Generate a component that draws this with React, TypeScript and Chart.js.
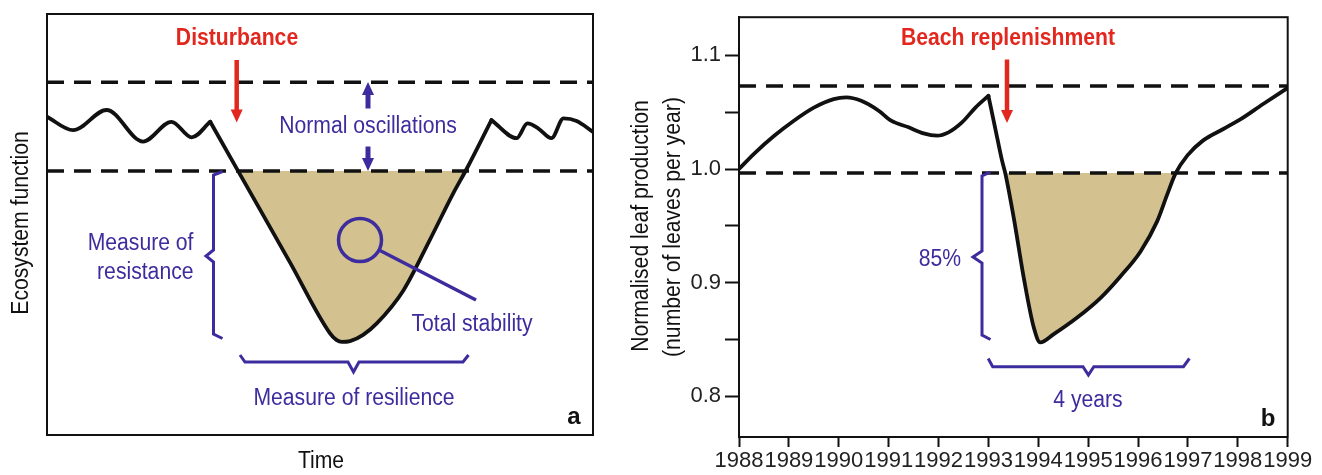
import React, { useEffect, useRef } from 'react';
import { Chart, registerables } from 'chart.js';

Chart.register(...registerables);

// ---------- Panel a (conceptual) ----------
const timeA = [0, 4.8, 10.9, 17.6, 22.8, 26.5, 29.9, 34.7, 44.5, 51.8, 53.0, 54.0, 55.5, 57.9, 60.4, 65.3, 70.1, 74.4, 76.9, 81.4, 86.0, 88.0, 90.0, 92.4, 94.6, 97.0, 100];
const functionA = [75.6, 72.4, 77.2, 69.7, 74.4, 70.7, 74.4, 63.4, 41.0, 24.2, 22.6, 22.1, 22.3, 23.8, 26.5, 34.4, 46.3, 57.4, 63.3, 74.8, 70.5, 74.0, 72.8, 70.5, 75.2, 74.6, 72.0];
const cornersA = [6, 19]; // indices of the sharp corners of the curve
const upperBandA = 83.8;
const lowerBandA = 62.7;

// ---------- Panel b (leaf production) ----------
const yearsB = [1988.0, 1988.3, 1988.7, 1989.1, 1989.5, 1989.9, 1990.15, 1990.45, 1990.8, 1991.05, 1991.4, 1991.7, 1991.97, 1992.2, 1992.47, 1992.74, 1993.0, 1993.14, 1993.27, 1993.34, 1993.51, 1993.71, 1993.91, 1994.04, 1994.31, 1994.78, 1995.25, 1995.65, 1996.05, 1996.38, 1996.58, 1996.75, 1996.99, 1997.3, 1997.7, 1998.05, 1998.5, 1999.0];
const leafB = [1.0, 1.0134, 1.029, 1.0425, 1.054, 1.0615, 1.063, 1.06, 1.0513, 1.0425, 1.0367, 1.0314, 1.0294, 1.0323, 1.041, 1.0541, 1.0644, 1.0352, 1.008, 0.996, 0.9566, 0.904, 0.8605, 0.8474, 0.8547, 0.8693, 0.8867, 0.9057, 0.9275, 0.9537, 0.977, 0.9959, 1.012, 1.025, 1.035, 1.0437, 1.057, 1.0714];
const cornersB = [16]; // 1993 peak
const upperBandB = 1.073;
const lowerBandB = 0.9965;
const yMinB = 0.7642;
const yMaxB = 1.1336;
const yearMin = 1988;
const yearMax = 1999;

const RED = '#E2281E';
const PURPLE = '#3D2C9E';
const TAN = '#D3C18F';
const INK = '#111111';
const FONT = "'Liberation Sans', Arial, sans-serif";

type TextOpts = { size?: number; bold?: boolean; color?: string; align?: CanvasTextAlign; sx?: number; rotate?: number };

function drawText(ctx: CanvasRenderingContext2D, s: string, x: number, y: number, o: TextOpts = {}) {
  const { size = 23, bold = false, color = PURPLE, align = 'center', sx = 0.92, rotate = 0 } = o;
  ctx.save();
  ctx.translate(x, y);
  if (rotate) ctx.rotate(rotate);
  ctx.scale(sx, 1);
  ctx.font = `${bold ? 'bold ' : ''}${size}px ${FONT}`;
  ctx.textAlign = align;
  ctx.textBaseline = 'alphabetic';
  ctx.fillStyle = color;
  ctx.fillText(s, 0, 0);
  ctx.restore();
}

function arrow(ctx: CanvasRenderingContext2D, x: number, yStart: number, yTip: number, color: string, shaft = 4.5, headW = 12, headL = 13) {
  const dir = Math.sign(yTip - yStart);
  const base = yTip - dir * headL;
  ctx.save();
  ctx.strokeStyle = color;
  ctx.lineWidth = shaft;
  ctx.lineCap = 'butt';
  ctx.beginPath();
  ctx.moveTo(x, yStart);
  ctx.lineTo(x, base + dir);
  ctx.stroke();
  ctx.fillStyle = color;
  ctx.beginPath();
  ctx.moveTo(x - headW / 2, base);
  ctx.lineTo(x + headW / 2, base);
  ctx.lineTo(x, yTip);
  ctx.closePath();
  ctx.fill();
  ctx.restore();
}

function poly(ctx: CanvasRenderingContext2D, pts: number[][], color: string, width = 3) {
  ctx.save();
  ctx.strokeStyle = color;
  ctx.lineWidth = width;
  ctx.lineJoin = 'miter';
  ctx.lineCap = 'butt';
  ctx.beginPath();
  pts.forEach((p, i) => (i === 0 ? ctx.moveTo(p[0], p[1]) : ctx.lineTo(p[0], p[1])));
  ctx.stroke();
  ctx.restore();
}

function frame(ctx: CanvasRenderingContext2D, area: { left: number; top: number; right: number; bottom: number }) {
  ctx.save();
  ctx.strokeStyle = INK;
  ctx.lineWidth = 2;
  ctx.strokeRect(area.left, area.top, area.right - area.left, area.bottom - area.top);
  ctx.restore();
}

const annotA = {
  id: 'annotA',
  afterDatasetsDraw(chart: any) {
    const ctx: CanvasRenderingContext2D = chart.ctx;
    frame(ctx, chart.chartArea);
    drawText(ctx, 'Disturbance', 237, 45, { bold: true, color: RED, sx: 0.92 });
    arrow(ctx, 236.7, 60, 122.5, RED, 4.5, 12, 13);
    arrow(ctx, 368, 108.5, 82, PURPLE, 5, 12, 13);
    arrow(ctx, 368, 146.5, 171, PURPLE, 5, 12, 13);
    drawText(ctx, 'Normal oscillations', 368, 133.3);
    drawText(ctx, 'Measure of', 193.5, 250, { align: 'right' });
    drawText(ctx, 'resistance', 193.5, 278.5, { align: 'right' });
    poly(ctx, [[222.5, 171.5], [213.5, 175], [213.5, 250], [206, 256], [213.5, 262], [213.5, 334], [222.5, 338.5]], PURPLE, 3);
    poly(ctx, [[240, 355], [245, 362], [348, 362], [353.5, 372], [359, 362], [463, 362], [468.5, 355]], PURPLE, 3);
    ctx.save();
    ctx.strokeStyle = PURPLE;
    ctx.lineWidth = 3.5;
    ctx.beginPath();
    ctx.arc(360, 240, 21.5, 0, Math.PI * 2);
    ctx.stroke();
    ctx.restore();
    poly(ctx, [[379, 250], [476, 300]], PURPLE, 3.5);
    drawText(ctx, 'Total stability', 472, 330.5);
    drawText(ctx, 'Measure of resilience', 354, 405);
    drawText(ctx, 'a', 574, 424, { bold: true, color: INK, size: 24, sx: 1 });
    drawText(ctx, 'Time', 321, 468, { color: INK });
    drawText(ctx, 'Ecosystem function', 28, 223, { color: INK, rotate: -Math.PI / 2 });
  },
};

const annotB = {
  id: 'annotB',
  afterDatasetsDraw(chart: any) {
    const ctx: CanvasRenderingContext2D = chart.ctx;
    frame(ctx, chart.chartArea);
    drawText(ctx, 'Beach replenishment', 388, 45, { bold: true, color: RED, sx: 0.92 });
    arrow(ctx, 387, 59.5, 123, RED, 4.5, 12, 13);
    poly(ctx, [[370.5, 172], [362, 176], [362, 251], [353, 257], [362, 263], [362, 335], [370.5, 339.5]], PURPLE, 3);
    drawText(ctx, '85%', 320, 266);
    poly(ctx, [[368.2, 358.5], [372.7, 366.7], [463, 366.7], [468.4, 375], [473.8, 366.7], [563.5, 366.7], [569.4, 358.5]], PURPLE, 3);
    drawText(ctx, '4 years', 468, 406.5);
    drawText(ctx, 'b', 648, 426, { bold: true, color: INK, size: 24, sx: 1 });
    drawText(ctx, 'Normalised leaf production', 27.5, 226, { color: INK, rotate: -Math.PI / 2 });
    drawText(ctx, '(number of leaves per year)', 59.5, 227, { color: INK, rotate: -Math.PI / 2 });
  },
};

function lineBand(xs: number[], v: number) {
  return xs.map((x) => ({ x, y: v }));
}

// split a series into smooth pieces joined at sharp corners
function pieces(xs: number[], ys: number[], corners: number[]) {
  const cuts = [0, ...corners, xs.length - 1];
  const out: { x: number; y: number }[][] = [];
  for (let k = 0; k < cuts.length - 1; k++) {
    const seg: { x: number; y: number }[] = [];
    for (let i = cuts[k]; i <= cuts[k + 1]; i++) seg.push({ x: xs[i], y: ys[i] });
    out.push(seg);
  }
  return out;
}

function curveSets(xs: number[], ys: number[], corners: number[], band: number, label: string) {
  return pieces(xs, ys, corners).map((seg) => {
    const dips = seg.some((p) => p.y < band);
    return {
      label,
      data: seg,
      borderColor: INK,
      borderWidth: 3.8,
      pointRadius: 0,
      cubicInterpolationMode: 'monotone',
      borderCapStyle: 'round',
      fill: dips ? { target: { value: band }, above: 'rgba(0,0,0,0)', below: TAN } : false,
    } as any;
  });
}

export default function App() {
  const refA = useRef<HTMLCanvasElement>(null);
  const refB = useRef<HTMLCanvasElement>(null);

  useEffect(() => {
    const dashed = { borderColor: INK, borderWidth: 3.5, borderDash: [17, 10], pointRadius: 0, fill: false, tension: 0 };

    const chartA = new Chart(refA.current!, {
      type: 'line',
      data: {
        datasets: [
          ...curveSets(timeA, functionA, cornersA, lowerBandA, 'Ecosystem function'),
          { label: 'upper', data: lineBand([0, 100], upperBandA), ...dashed } as any,
          { label: 'lower', data: lineBand([0, 100], lowerBandA), ...dashed } as any,
        ],
      },
      options: {
        animation: false,
        responsive: false,
        devicePixelRatio: 1,
        layout: { padding: { left: 47, right: 27, top: 14, bottom: 40 } },
        scales: {
          x: { type: 'linear', display: false, min: 0, max: 100 },
          y: { type: 'linear', display: false, min: 0, max: 100 },
        },
        plugins: {
          legend: { display: false },
          tooltip: { enabled: false },
          filler: { drawTime: 'beforeDatasetsDraw' },
        },
      } as any,
      plugins: [annotA],
    });

    const gridB = { display: true, drawOnChartArea: false, drawTicks: true, tickWidth: 2, tickColor: INK };
    const chartB = new Chart(refB.current!, {
      type: 'line',
      data: {
        datasets: [
          ...curveSets(yearsB, leafB, cornersB, lowerBandB, 'Normalised leaf production'),
          { label: 'upper', data: lineBand([yearMin, yearMax], upperBandB), ...dashed } as any,
          { label: 'lower', data: lineBand([yearMin, yearMax], lowerBandB), ...dashed } as any,
        ],
      },
      options: {
        animation: false,
        responsive: false,
        devicePixelRatio: 1,
        layout: { padding: { left: 0, right: 34.3, top: 14, bottom: 0 } },
        scales: {
          x: {
            type: 'linear',
            min: yearMin,
            max: yearMax,
            afterFit: (s: any) => { s.height = 38; },
            grid: { ...gridB, tickLength: 10 },
            border: { display: true, color: INK, width: 2 },
            ticks: {
              stepSize: 1,
              autoSkip: false,
              maxRotation: 0,
              minRotation: 0,
              includeBounds: false,
              padding: 1,
              color: '#222',
              font: { family: FONT, size: 22 },
              callback: (v: any) => String(Math.round(Number(v))),
            },
          },
          y: {
            type: 'linear',
            min: yMinB,
            max: yMaxB,
            afterFit: (s: any) => { s.width = 119; },
            grid: { ...gridB, tickLength: 14 },
            border: { display: true, color: INK, width: 2 },
            ticks: {
              stepSize: 0.05,
              includeBounds: false,
              autoSkip: false,
              padding: 4,
              color: '#222',
              font: { family: FONT, size: 22 },
              callback: (v: any) => {
                const r = Math.round(Number(v) * 100);
                return r % 10 === 0 ? (r / 100).toFixed(1) : '';
              },
            },
          },
        },
        plugins: {
          legend: { display: false },
          tooltip: { enabled: false },
          filler: { drawTime: 'beforeDatasetsDraw' },
        },
      } as any,
      plugins: [annotB],
    });

    return () => {
      chartA.destroy();
      chartB.destroy();
    };
  }, []);

  return (
    <div style={{ position: 'fixed', left: 0, top: 0, width: 1322, height: 475, background: '#ffffff' }}>
      <canvas ref={refA} width={620} height={475} style={{ position: 'absolute', left: 0, top: 0, width: 620, height: 475 }} />
      <canvas ref={refB} width={702} height={475} style={{ position: 'absolute', left: 620, top: 0, width: 702, height: 475 }} />
    </div>
  );
}
